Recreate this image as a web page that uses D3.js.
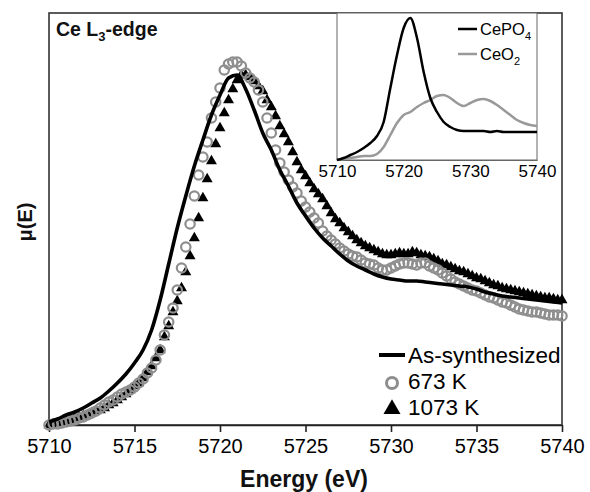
<!DOCTYPE html>
<html>
<head>
<meta charset="utf-8">
<script src="https://cdn.jsdelivr.net/npm/d3@7"></script>
<style>
  body { margin: 0; background: #fff; }
  text { font-family: "Liberation Sans", Arial, sans-serif; }
</style>
</head>
<body>
<div id="xanes"></div>
<script>
//////////////////////////////////
// Ce L3-edge XANES //
// As-synthesized (line)
// 673 K (open circles)
// 1073 K (filled triangles)
// inset: CePO4 / CeO2 references
//////////////////////////////////

// energy grids (eV)
var lineEnergy = d3.range(5710, 5740.01, 0.5)
var markEnergy = d3.range(5710, 5740.01, 0.25)
var insetEnergy = d3.range(5710, 5740.01, 1)

// mu(E), arbitrary units, As-synthesized (every 0.5 eV)
var asSynth = [0.03, 0.06, 0.10, 0.13, 0.17, 0.22, 0.27, 0.34, 0.42, 0.51,
  0.62, 0.75, 0.95, 1.25, 1.61, 1.97, 2.29, 2.59, 2.85, 3.10,
  3.30, 3.47, 3.50, 3.36, 3.15, 2.92, 2.75, 2.55, 2.39, 2.22,
  2.09, 1.97, 1.87, 1.79, 1.71, 1.64, 1.59, 1.55, 1.51, 1.48,
  1.46, 1.45, 1.44, 1.44, 1.43, 1.42, 1.41, 1.40, 1.39, 1.38,
  1.36, 1.33, 1.31, 1.29, 1.28, 1.27, 1.26, 1.25, 1.24, 1.23, 1.22]

// 673 K (every 0.25 eV)
var k673 = [0.00, 0.01, 0.01, 0.02,  0.03, 0.04, 0.05, 0.07,
  0.08, 0.10, 0.12, 0.14,  0.17, 0.20, 0.23, 0.25,
  0.28, 0.31, 0.33, 0.35,  0.38, 0.42, 0.46, 0.52,
  0.57, 0.65, 0.75, 0.90,  1.03, 1.17, 1.35, 1.57,
  1.78, 2.01, 2.29, 2.50,  2.68, 2.83, 3.07, 3.23,
  3.37, 3.55, 3.61, 3.63,  3.63, 3.59, 3.52, 3.47,
  3.43, 3.35, 3.23, 3.07,  2.92, 2.75, 2.62, 2.53,
  2.45, 2.38, 2.32, 2.24,  2.18, 2.13, 2.07, 2.02,
  1.94, 1.89, 1.85, 1.81,  1.77, 1.74, 1.71, 1.69,
  1.68, 1.65, 1.62, 1.61,  1.60, 1.57, 1.55, 1.55,
  1.57, 1.59, 1.61, 1.62,  1.62, 1.61, 1.60, 1.62,
  1.62, 1.59, 1.57, 1.55,  1.52, 1.49, 1.46, 1.43,
  1.41, 1.39, 1.37, 1.35,  1.34, 1.32, 1.30, 1.28,
  1.27, 1.25, 1.23, 1.22,  1.20, 1.18, 1.16, 1.15,
  1.14, 1.13, 1.13, 1.12,  1.11, 1.10, 1.10, 1.10,  1.09]

// 1073 K (every 0.25 eV)
var k1073 = [0.00, 0.01, 0.02, 0.03,  0.04, 0.05, 0.07, 0.08,
  0.09, 0.10, 0.12, 0.14,  0.15, 0.17, 0.20, 0.22,
  0.25, 0.28, 0.31, 0.35,  0.39, 0.42, 0.47, 0.53,
  0.59, 0.67, 0.75, 0.88,  0.99, 1.13, 1.24, 1.37,
  1.53, 1.69, 1.87, 2.07,  2.27, 2.46, 2.64, 2.81,
  2.97, 3.12, 3.25, 3.36,  3.45, 3.50, 3.50, 3.48,
  3.44, 3.39, 3.34, 3.25,  3.18, 3.09, 2.99, 2.91,
  2.83, 2.73, 2.63, 2.55,  2.49, 2.42, 2.36, 2.31,
  2.26, 2.19, 2.12, 2.06,  2.02, 1.97, 1.93, 1.89,
  1.85, 1.82, 1.79, 1.77,  1.75, 1.73, 1.71, 1.70,
  1.70, 1.71, 1.72, 1.71,  1.71, 1.73, 1.72, 1.70,
  1.69, 1.68, 1.66, 1.64,  1.61, 1.60, 1.58, 1.56,
  1.54, 1.53, 1.51, 1.49,  1.47, 1.46, 1.44, 1.42,
  1.40, 1.39, 1.37, 1.36,  1.35, 1.34, 1.33, 1.32,
  1.31, 1.30, 1.29, 1.28,  1.27, 1.27, 1.26, 1.25,  1.25]

// inset references (every 1 eV)
var cePO4 = [0.00, 0.02, 0.05, 0.08, 0.12, 0.17, 0.24, 0.38, 0.72, 1.05,
  1.32, 1.42, 1.22, 0.88, 0.62, 0.48, 0.38, 0.33, 0.30, 0.29,
  0.29, 0.29, 0.29, 0.28, 0.29, 0.28, 0.28, 0.28, 0.28, 0.28, 0.28]
var ceO2 = [0.00, 0.01, 0.02, 0.03, 0.04, 0.04, 0.06, 0.13, 0.25, 0.37,
  0.45, 0.48, 0.53, 0.57, 0.60, 0.64, 0.65, 0.62, 0.57, 0.54,
  0.57, 0.60, 0.61, 0.59, 0.55, 0.50, 0.45, 0.40, 0.37, 0.35, 0.34]

var xTicks = [5710, 5715, 5720, 5725, 5730, 5735, 5740]
var insetTicks = [5710, 5720, 5730, 5740]

var margin = {top: 13, right: 28, bottom: 67, left: 49},
    width = 590 - margin.left - margin.right,
    height = 492 - margin.top - margin.bottom

var svg = d3.select("#xanes")
  .append("svg")
    .attr("width", 590)
    .attr("height", 492)
  .append("g")
    .attr("transform", "translate(" + margin.left + "," + margin.top + ")")

// scales
var x = d3.scaleLinear().domain([5710, 5740]).range([0, width])
var y = d3.scaleLinear().domain([0, 4.12]).range([height, 0])

// frame
svg.append("rect")
  .attr("x", 0).attr("y", 0)
  .attr("width", width).attr("height", height)
  .attr("fill", "none")
  .attr("stroke", "#333")
  .attr("stroke-width", 1.6)

// x axis
var xAxis = svg.append("g")
  .attr("transform", "translate(0," + height + ")")
  .call(d3.axisBottom(x).tickValues(xTicks).tickFormat(d3.format("d")).tickSize(7).tickSizeOuter(0).tickPadding(7))
xAxis.select(".domain").attr("stroke", "#222").attr("stroke-width", 1.6)
xAxis.selectAll(".tick line").attr("stroke", "#222").attr("stroke-width", 1.6)
xAxis.selectAll("text")
  .style("font-size", "20px")
  .style("font-family", "Liberation Sans, Arial, sans-serif")
  .attr("fill", "#000")

svg.append("text")
  .attr("text-anchor", "middle")
  .attr("x", 255)
  .attr("y", height + 62)
  .style("font-size", "23px")
  .style("font-weight", "bold")
  .attr("fill", "#111")
  .text("Energy (eV)")

svg.append("text")
  .attr("text-anchor", "middle")
  .attr("transform", "rotate(-90)")
  .attr("x", -(222 - margin.top))
  .attr("y", -17)
  .style("font-size", "20px")
  .style("font-weight", "bold")
  .attr("fill", "#111")
  .text("μ(E)")

// title inside the frame
var title = svg.append("text")
  .attr("x", 7).attr("y", 23)
  .style("font-size", "19.5px")
  .style("font-weight", "bold")
  .attr("fill", "#111")
title.append("tspan").text("Ce L")
title.append("tspan").attr("dy", 5).style("font-size", "13px").text("3")
title.append("tspan").attr("dy", -5).text("-edge")

// 1073 K triangles
var tri = d3.symbol().type(d3.symbolTriangle).size(52)
svg.append("g")
  .selectAll("path")
  .data(markEnergy.map(function(e, i) { return {e: e, v: k1073[i]} }))
  .enter().append("path")
    .attr("d", tri)
    .attr("transform", function(d) { return "translate(" + x(d.e) + "," + y(d.v) + ")" })
    .attr("fill", "#000")

// 673 K open circles
svg.append("g")
  .selectAll("circle")
  .data(markEnergy.map(function(e, i) { return {e: e, v: k673[i]} }))
  .enter().append("circle")
    .attr("cx", function(d) { return x(d.e) })
    .attr("cy", function(d) { return y(d.v) })
    .attr("r", 4.7)
    .attr("fill", "none")
    .attr("stroke", "#8e8e8e")
    .attr("stroke-width", 2.2)

// As-synthesized line
svg.append("path")
  .datum(lineEnergy.map(function(e, i) { return {e: e, v: asSynth[i]} }))
  .attr("fill", "none")
  .attr("stroke", "#000")
  .attr("stroke-width", 3.6)
  .attr("d", d3.line()
    .curve(d3.curveMonotoneX)
    .x(function(d) { return x(d.e) })
    .y(function(d) { return y(d.v) }))

// main legend
var lg = svg.append("g")
lg.append("line")
  .attr("x1", 330).attr("x2", 356)
  .attr("y1", 342).attr("y2", 342)
  .attr("stroke", "#000").attr("stroke-width", 4)
lg.append("circle")
  .attr("cx", 343).attr("cy", 370).attr("r", 5.5)
  .attr("fill", "none").attr("stroke", "#8e8e8e").attr("stroke-width", 3)
lg.append("path")
  .attr("d", d3.symbol().type(d3.symbolTriangle).size(125))
  .attr("transform", "translate(343,396)")
  .attr("fill", "#000")
var lgNames = ["As-synthesized", "673 K", "1073 K"]
lg.selectAll("text.lg")
  .data(lgNames)
  .enter().append("text")
    .attr("x", 359)
    .attr("y", function(d, i) { return 350 + i * 26 })
    .style("font-size", "22.5px")
    .attr("fill", "#000")
    .text(function(d) { return d })

// ----------------
// inset
// ----------------
var ix0 = 337 - margin.left, ix1 = 537 - margin.left
var iy0 = 0, iy1 = 160 - margin.top
var xi = d3.scaleLinear().domain([5710, 5740]).range([ix0, ix1])
var yi = d3.scaleLinear().domain([0, 1.47]).range([iy1, iy0])

svg.append("rect")
  .attr("x", ix0).attr("y", iy0)
  .attr("width", ix1 - ix0).attr("height", iy1 - iy0)
  .attr("fill", "#fff")
  .attr("stroke", "#666")
  .attr("stroke-width", 1)

var insetAxis = svg.append("g")
  .attr("transform", "translate(0," + iy1 + ")")
  .call(d3.axisBottom(xi).tickValues(insetTicks).tickFormat(d3.format("d")).tickSize(0).tickPadding(5))
insetAxis.select(".domain").attr("stroke", "#666")
insetAxis.selectAll("text")
  .style("font-size", "17px")
  .style("font-family", "Liberation Sans, Arial, sans-serif")
  .attr("fill", "#000")

var iline = d3.line()
  .curve(d3.curveMonotoneX)
  .x(function(d) { return xi(d.e) })
  .y(function(d) { return yi(d.v) })

svg.append("path")
  .datum(insetEnergy.map(function(e, i) { return {e: e, v: ceO2[i]} }))
  .attr("fill", "none").attr("stroke", "#999").attr("stroke-width", 2.5)
  .attr("d", iline)
svg.append("path")
  .datum(insetEnergy.map(function(e, i) { return {e: e, v: cePO4[i]} }))
  .attr("fill", "none").attr("stroke", "#000").attr("stroke-width", 2.5)
  .attr("d", iline)

// inset legend
var ilg = [{name: "CePO", sub: "4", color: "#000"}, {name: "CeO", sub: "2", color: "#999"}]
ilg.forEach(function(d, i) {
  var yy = 29 - margin.top + i * 25
  svg.append("line")
    .attr("x1", 458 - margin.left).attr("x2", 477 - margin.left)
    .attr("y1", yy).attr("y2", yy)
    .attr("stroke", d.color).attr("stroke-width", 2.5)
  var t = svg.append("text")
    .attr("x", 480 - margin.left).attr("y", yy + 6)
    .style("font-size", "16.5px")
    .attr("fill", "#000")
  t.append("tspan").text(d.name)
  t.append("tspan").attr("dy", 5).style("font-size", "11px").text(d.sub)
})
</script>
</body>
</html>
